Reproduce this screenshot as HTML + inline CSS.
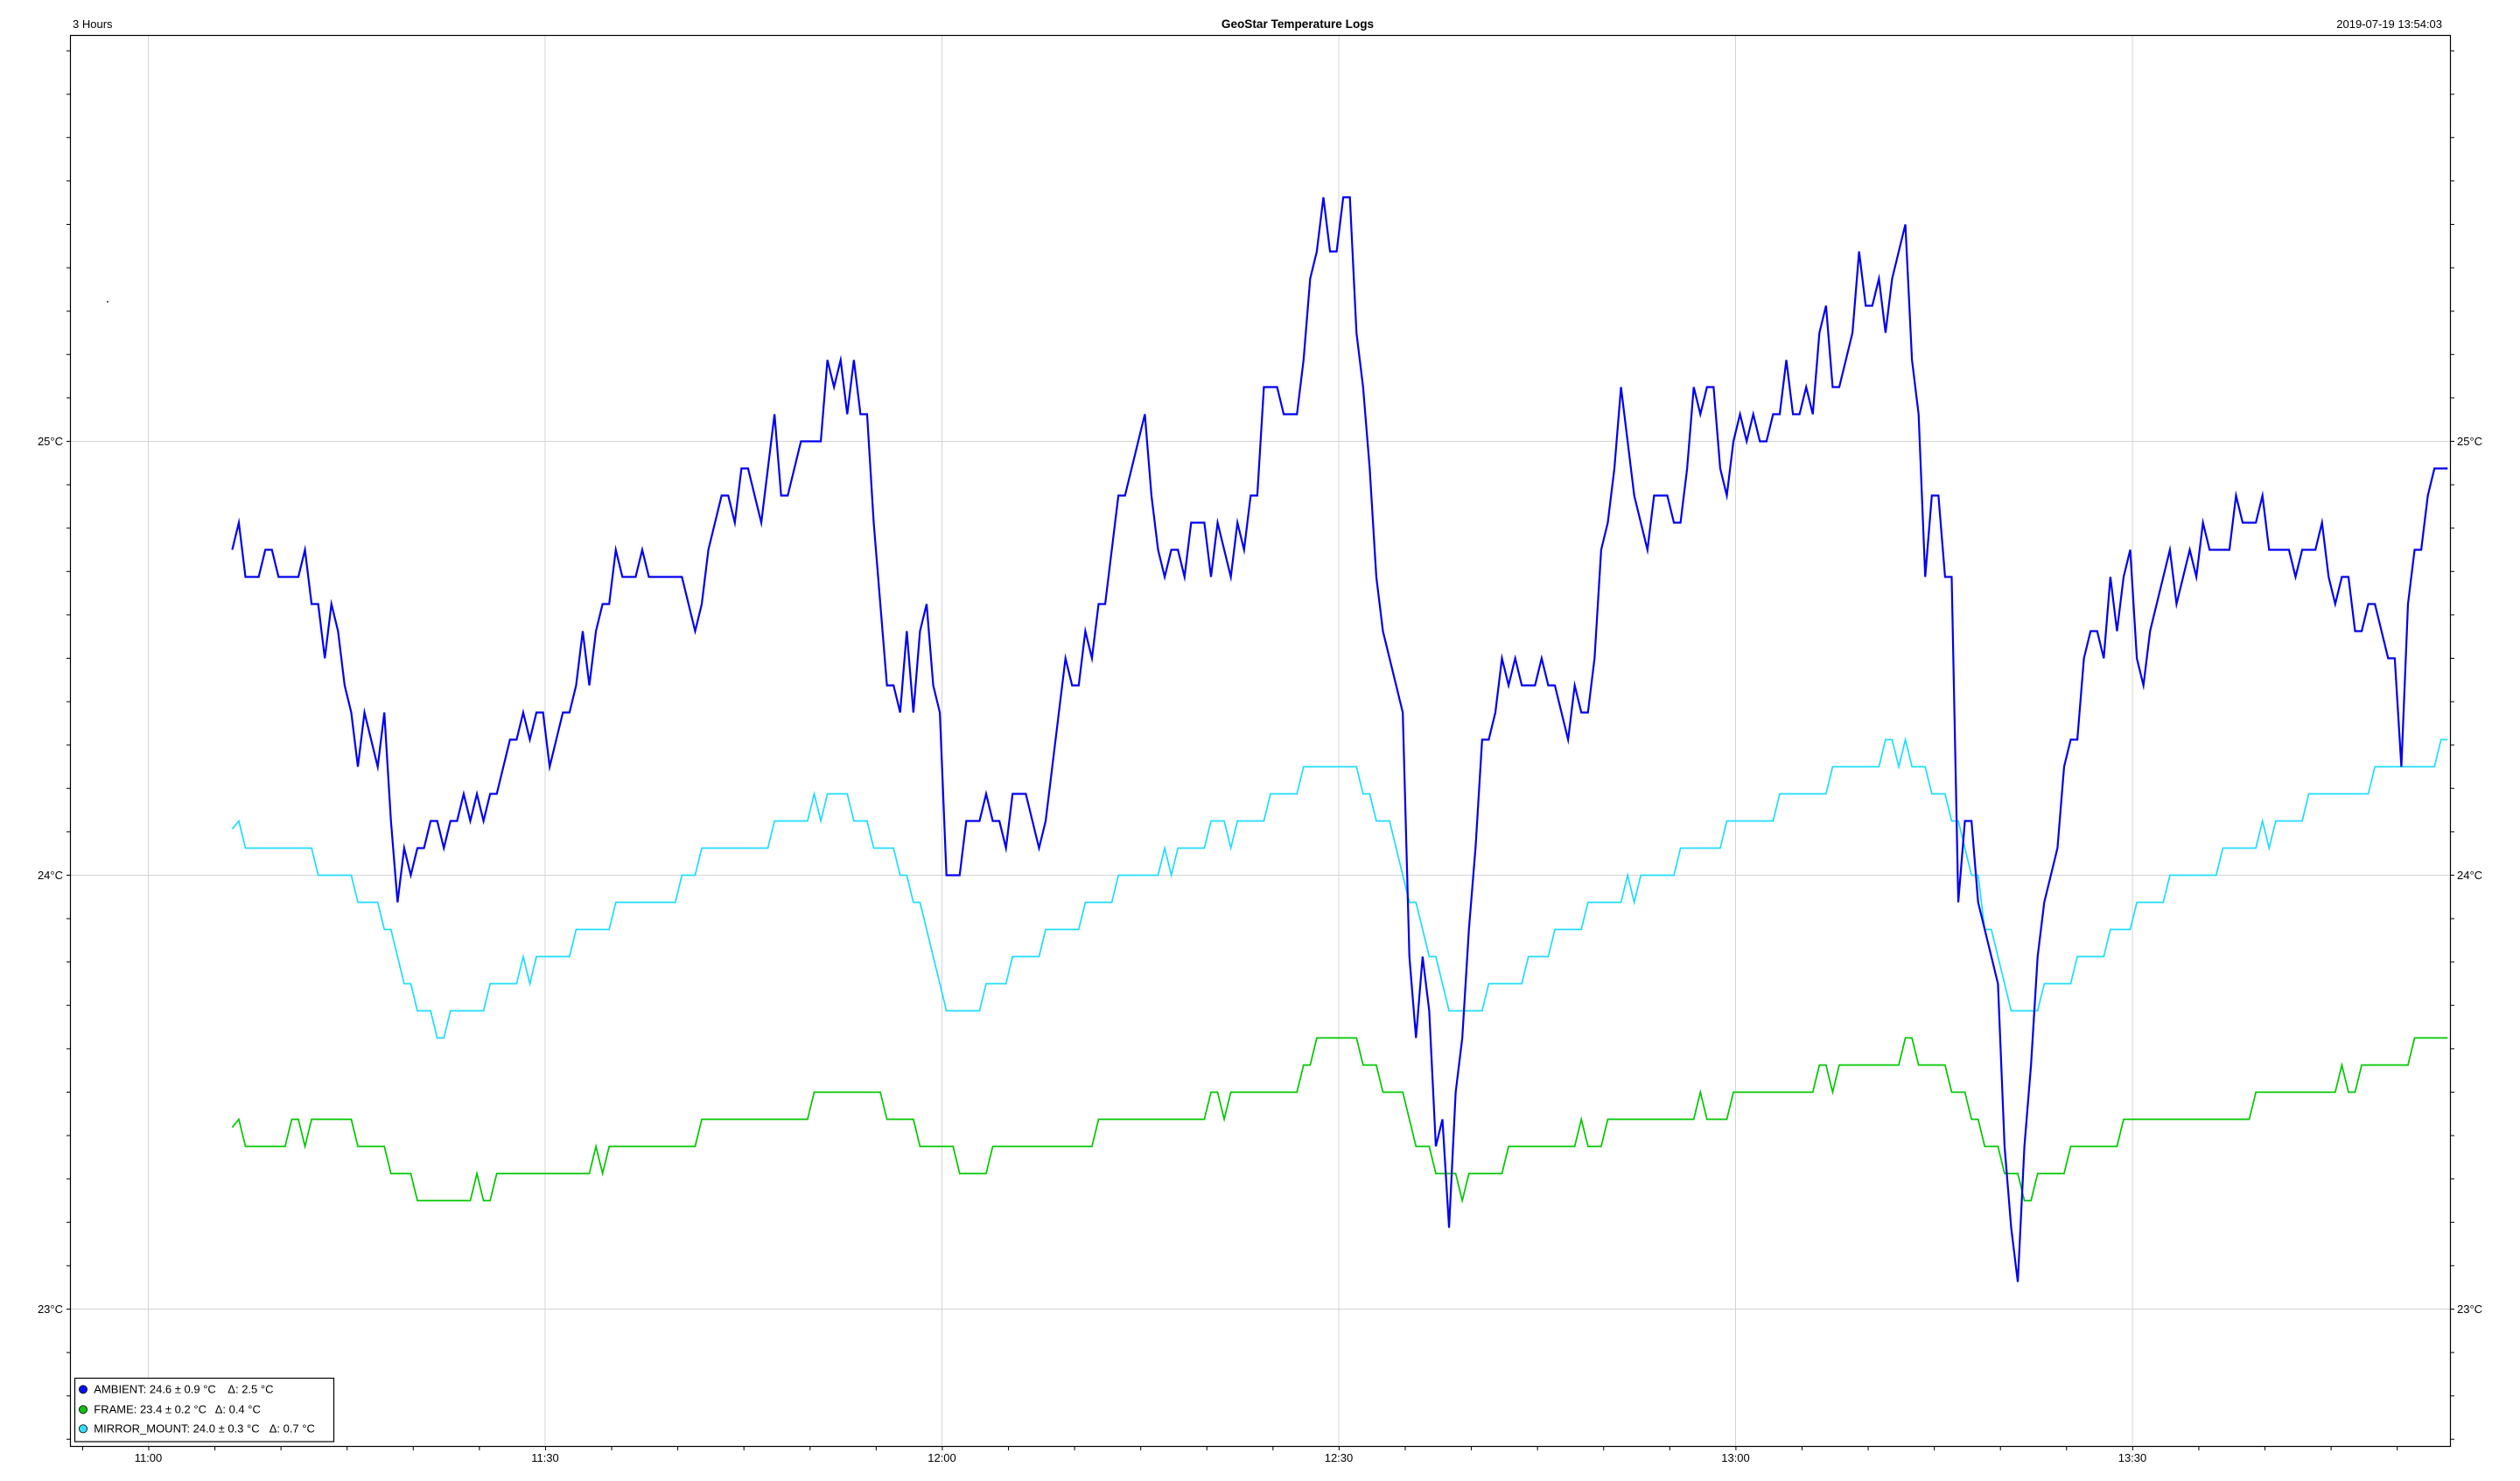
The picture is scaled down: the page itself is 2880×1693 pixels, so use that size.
<!DOCTYPE html>
<html>
<head>
<meta charset="utf-8">
<style>
html,body{margin:0;padding:0;background:#fff;}
svg{display:block;}
text{font-family:"Liberation Sans",sans-serif;font-size:13px;fill:#000;}
</style>
</head>
<body>
<svg width="2880" height="1693" viewBox="0 0 2880 1693" xmlns="http://www.w3.org/2000/svg">
<rect x="0" y="0" width="2880" height="1693" fill="#fff"/>

<!-- header -->
<text x="83" y="32">3 Hours</text>
<text x="1483" y="32" text-anchor="middle" font-weight="bold" style="font-size:13.6px">GeoStar Temperature Logs</text>
<text x="2791" y="32" text-anchor="end">2019-07-19 13:54:03</text>

<!-- gridlines -->
<g stroke="#d4d4d4" stroke-width="1" fill="none">
<path d="M169.5 41V1653M623 41V1653M1076.5 41V1653M1530 41V1653M1983.5 41V1653M2437 41V1653"/>
<path d="M81 504.5H2800M81 1000.5H2800M81 1496.5H2800"/>
</g>

<!-- series -->
<g transform="translate(265.4 504.5) scale(7.558 31)" fill="none" stroke-linejoin="miter" stroke-miterlimit="6">
<polyline vector-effect="non-scaling-stroke" stroke="#00c800" stroke-width="1.7" points="0,25.3 1,25 2,26 8,26 9,25 10,25 11,26 12,25 18,25 19,26 23,26 24,27 27,27 28,28 36,28 37,27 38,28 39,28 40,27 54,27 55,26 56,27 57,26 70,26 71,25 87,25 88,24 98,24 99,25 103,25 104,26 109,26 110,27 114,27 115,26 130,26 131,25 147,25 148,24 149,24 150,25 151,24 161,24 162,23 163,23 164,22 170,22 171,23 173,23 174,24 177,24 179,26 181,26 182,27 185,27 186,28 187,27 192,27 193,26 203,26 204,25 205,26 207,26 208,25 221,25 222,24 223,25 226,25 227,24 239,24 240,23 241,23 242,24 243,23 252,23 253,22 254,22 255,23 259,23 260,24 262,24 263,25 264,25 265,26 267,26 268,27 270,27 271,28 272,28 273,27 277,27 278,26 285,26 286,25 305,25 306,24 318,24 319,23 320,24 321,24 322,23 329,23 330,22 335,22"/>
<polyline vector-effect="non-scaling-stroke" stroke="#1fdcff" stroke-width="1.7" points="0,14.3 1,14 2,15 12,15 13,16 18,16 19,17 22,17 23,18 24,18 25,19 26,20 27,20 28,21 30,21 31,22 32,22 33,21 38,21 39,20 43,20 44,19 45,20 46,19 51,19 52,18 57,18 58,17 67,17 68,16 70,16 71,15 81,15 82,14 87,14 88,13 89,14 90,13 93,13 94,14 96,14 97,15 100,15 101,16 102,16 103,17 104,17 108,21 113,21 114,20 117,20 118,19 122,19 123,18 128,18 129,17 133,17 134,16 140,16 141,15 142,16 143,15 147,15 148,14 150,14 151,15 152,14 156,14 157,13 161,13 162,12 170,12 171,13 172,13 173,14 175,14 178,17 179,17 180,18 181,19 182,19 183,20 184,21 189,21 190,20 195,20 196,19 199,19 200,18 204,18 205,17 210,17 211,16 212,17 213,16 218,16 219,15 225,15 226,14 233,14 234,13 241,13 242,12 249,12 250,11 251,11 252,12 253,11 254,12 256,12 257,13 259,13 260,14 261,14 263,16 264,16 265,18 266,18 267,19 269,21 273,21 274,20 278,20 279,19 283,19 284,18 287,18 288,17 292,17 293,16 300,16 301,15 306,15 307,14 308,15 309,14 313,14 314,13 323,13 324,12 333,12 334,11 335,11"/>
<polyline vector-effect="non-scaling-stroke" stroke="#0000f2" stroke-width="2.2" points="0,4 1,3 2,5 4,5 5,4 6,4 7,5 10,5 11,4 12,6 13,6 14,8 15,6 16,7 17,9 18,10 19,12 20,10 21,11 22,12 23,10 24,14 25,17 26,15 27,16 28,15 29,15 30,14 31,14 32,15 33,14 34,14 35,13 36,14 37,13 38,14 39,13 40,13 41,12 42,11 43,11 44,10 45,11 46,10 47,10 48,12 49,11 50,10 51,10 52,9 53,7 54,9 55,7 56,6 57,6 58,4 59,5 61,5 62,4 63,5 68,5 69,6 70,7 71,6 72,4 73,3 74,2 75,2 76,3 77,1 78,1 79,2 80,3 81,1 82,-1 83,2 84,2 85,1 86,0 89,0 90,-3 91,-2 92,-3 93,-1 94,-3 95,-1 96,-1 97,3 98,6 99,9 100,9 101,10 102,7 103,10 104,7 105,6 106,9 107,10 108,16 110,16 111,14 113,14 114,13 115,14 116,14 117,15 118,13 120,13 121,14 122,15 123,14 124,12 125,10 126,8 127,9 128,9 129,7 130,8 131,6 132,6 133,4 134,2 135,2 136,1 137,0 138,-1 139,2 140,4 141,5 142,4 143,4 144,5 145,3 147,3 148,5 149,3 150,4 151,5 152,3 153,4 154,2 155,2 156,-2 158,-2 159,-1 161,-1 162,-3 163,-6 164,-7 165,-9 166,-7 167,-7 168,-9 169,-9 170,-4 171,-2 172,1 173,5 174,7 175,8 176,9 177,10 178,19 179,22 180,19 181,21 182,26 183,25 184,29 185,24 186,22 187,18 188,15 189,11 190,11 191,10 192,8 193,9 194,8 195,9 197,9 198,8 199,9 200,9 201,10 202,11 203,9 204,10 205,10 206,8 207,4 208,3 209,1 210,-2 211,0 212,2 213,3 214,4 215,2 217,2 218,3 219,3 220,1 221,-2 222,-1 223,-2 224,-2 225,1 226,2 227,0 228,-1 229,0 230,-1 231,0 232,0 233,-1 234,-1 235,-3 236,-1 237,-1 238,-2 239,-1 240,-4 241,-5 242,-2 243,-2 244,-3 245,-4 246,-7 247,-5 248,-5 249,-6 250,-4 251,-6 252,-7 253,-8 254,-3 255,-1 256,5 257,2 258,2 259,5 260,5 261,17 262,14 263,14 264,17 265,18 266,19 267,20 268,26 269,29 270,31 271,26 272,23 273,19 274,17 275,16 276,15 277,12 278,11 279,11 280,8 281,7 282,7 283,8 284,5 285,7 286,5 287,4 288,8 289,9 290,7 291,6 292,5 293,4 294,6 295,5 296,4 297,5 298,3 299,4 302,4 303,2 304,3 306,3 307,2 308,4 311,4 312,5 313,4 315,4 316,3 317,5 318,6 319,5 320,5 321,7 322,7 323,6 324,6 325,7 326,8 327,8 328,12 329,6 330,4 331,4 332,2 333,1 335,1"/>
</g>

<!-- frame -->
<rect x="80.5" y="40.5" width="2720" height="1613" fill="none" stroke="#000" stroke-width="1.2"/>

<!-- ticks -->
<g stroke="#000" stroke-width="1" fill="none">
<path d="M94.4 1654v4m75.58-4v4m75.58-4v4m75.58-4v4m75.58-4v4m75.58-4v4m75.58-4v4m75.58-4v4m75.58-4v4m75.58-4v4m75.58-4v4m75.58-4v4m75.58-4v4m75.58-4v4m75.58-4v4m75.58-4v4m75.58-4v4m75.58-4v4m75.58-4v4m75.58-4v4m75.58-4v4m75.58-4v4m75.58-4v4m75.58-4v4m75.58-4v4m75.58-4v4m75.58-4v4m75.58-4v4m75.58-4v4m75.58-4v4m75.58-4v4m75.58-4v4m75.58-4v4m75.58-4v4m75.58-4v4m75.58-4v4"/>
<path d="M76 58.1h4m-4 49.6h4m-4 49.6h4m-4 49.6h4m-4 49.6h4m-4 49.6h4m-4 49.6h4m-4 49.6h4m-4 49.6h4m-4 49.6h4m-4 49.6h4m-4 49.6h4m-4 49.6h4m-4 49.6h4m-4 49.6h4m-4 49.6h4m-4 49.6h4m-4 49.6h4m-4 49.6h4m-4 49.6h4m-4 49.6h4m-4 49.6h4m-4 49.6h4m-4 49.6h4m-4 49.6h4m-4 49.6h4m-4 49.6h4m-4 49.6h4m-4 49.6h4m-4 49.6h4m-4 49.6h4m-4 49.6h4m-4 49.6h4"/>
<path d="M2801 58.1h4m-4 49.6h4m-4 49.6h4m-4 49.6h4m-4 49.6h4m-4 49.6h4m-4 49.6h4m-4 49.6h4m-4 49.6h4m-4 49.6h4m-4 49.6h4m-4 49.6h4m-4 49.6h4m-4 49.6h4m-4 49.6h4m-4 49.6h4m-4 49.6h4m-4 49.6h4m-4 49.6h4m-4 49.6h4m-4 49.6h4m-4 49.6h4m-4 49.6h4m-4 49.6h4m-4 49.6h4m-4 49.6h4m-4 49.6h4m-4 49.6h4m-4 49.6h4m-4 49.6h4m-4 49.6h4m-4 49.6h4m-4 49.6h4"/>
</g>

<!-- small mark -->
<rect x="122" y="344" width="2" height="2" fill="#666"/>

<!-- y labels -->
<text x="72" y="509" text-anchor="end">25°C</text>
<text x="72" y="1005" text-anchor="end">24°C</text>
<text x="72" y="1501" text-anchor="end">23°C</text>
<text x="2808" y="509">25°C</text>
<text x="2808" y="1005">24°C</text>
<text x="2808" y="1501">23°C</text>

<!-- x labels -->
<text x="169.5" y="1671" text-anchor="middle">11:00</text>
<text x="623" y="1671" text-anchor="middle">11:30</text>
<text x="1076.5" y="1671" text-anchor="middle">12:00</text>
<text x="1530" y="1671" text-anchor="middle">12:30</text>
<text x="1983.5" y="1671" text-anchor="middle">13:00</text>
<text x="2437" y="1671" text-anchor="middle">13:30</text>

<!-- legend -->
<rect x="85.5" y="1575.5" width="296" height="72.5" fill="#fff" stroke="#000" stroke-width="1.2"/>
<circle cx="95" cy="1588.3" r="4.6" fill="#0010ff" stroke="#222" stroke-width="1"/>
<circle cx="95" cy="1611.3" r="4.6" fill="#10c010" stroke="#222" stroke-width="1"/>
<circle cx="95" cy="1633.3" r="4.6" fill="#30e0ff" stroke="#222" stroke-width="1"/>
<text x="107.3" y="1592.7">AMBIENT: 24.6 ± 0.9 °C</text>
<text x="260.3" y="1592.7">Δ: 2.5 °C</text>
<text x="107.3" y="1615.7">FRAME: 23.4 ± 0.2 °C</text>
<text x="245.7" y="1615.7">Δ: 0.4 °C</text>
<text x="107.3" y="1637.7">MIRROR_MOUNT: 24.0 ± 0.3 °C</text>
<text x="307.7" y="1637.7">Δ: 0.7 °C</text>
</svg>
</body>
</html>
